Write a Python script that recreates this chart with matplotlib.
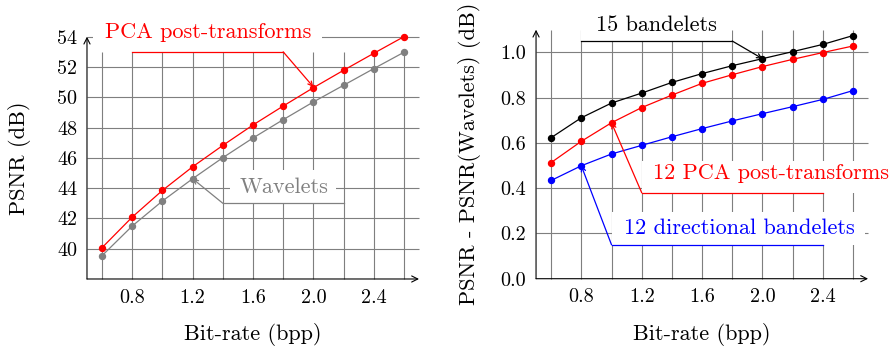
import matplotlib
matplotlib.use("Agg")
import matplotlib.pyplot as plt
from matplotlib.patches import Rectangle

plt.rcParams['font.family'] = ['cmr10', 'DejaVu Serif']
plt.rcParams['mathtext.fontset'] = 'cm'
plt.rcParams['axes.formatter.use_mathtext'] = True

# 码率 (bpp)
bitrate = [0.6, 0.8, 1.0, 1.2, 1.4, 1.6, 1.8, 2.0, 2.2, 2.4, 2.6]

# 左图: PSNR (dB)
psnr_pca = [40.07, 42.09, 43.85, 45.41, 46.82, 48.17, 49.42, 50.63, 51.78, 52.90, 54.0]
psnr_wavelets = [39.54, 41.50, 43.15, 44.62, 46.01, 47.31, 48.52, 49.69, 50.79, 51.89, 52.97]

# 右图: PSNR - PSNR(Wavelets)
gain_15_bandelets = [0.623, 0.711, 0.776, 0.820, 0.867, 0.906, 0.941, 0.972, 1.003, 1.035, 1.074]
gain_12_pca = [0.513, 0.607, 0.689, 0.756, 0.811, 0.863, 0.901, 0.937, 0.969, 0.999, 1.028]
gain_12_directional = [0.434, 0.499, 0.551, 0.589, 0.627, 0.663, 0.697, 0.729, 0.760, 0.792, 0.831]

xticks = [0.8, 1.2, 1.6, 2.0, 2.4]
left_yticks = [40, 42, 44, 46, 48, 50, 52, 54]
right_yticks = [0.0, 0.2, 0.4, 0.6, 0.8, 1.0]

FS_TICK = 14.5
FS = 16
GRID = '#7f7f7f'
GRAY = '#808080'


def setup_axes(ax, ylo, yhi, vtop, yticks, fmt):
    ax.set_xlim(0.5, 2.7)
    ax.set_ylim(ylo, yhi)
    for s in ax.spines.values():
        s.set_visible(False)
    ax.patch.set_visible(False)
    # 网格
    ax.vlines(bitrate, ylo, vtop, color=GRID, lw=0.8, zorder=1, clip_on=False)
    hl = [y for y in yticks if y > ylo]
    ax.hlines(hl, 0.5, 2.7, color=GRID, lw=0.8, zorder=1, clip_on=False)
    # 坐标轴箭头
    ap = dict(arrowstyle='->', color='black', lw=0.8, shrinkA=0, shrinkB=0,
              mutation_scale=11)
    ax.annotate('', xy=(2.7, ylo), xytext=(0.5, ylo), arrowprops=ap,
                annotation_clip=False, zorder=6)
    ax.annotate('', xy=(0.5, yhi), xytext=(0.5, ylo), arrowprops=ap,
                annotation_clip=False, zorder=6)
    ax.set_xticks(xticks)
    ax.set_xticklabels([f'{v:.1f}' for v in xticks])
    ax.set_yticks(yticks)
    ax.set_yticklabels([fmt(v) for v in yticks])
    ax.tick_params(length=0, labelsize=FS_TICK, pad=7)


def label_box(ax, x0, x1, y0, y1):
    ax.add_patch(Rectangle((x0, y0), x1 - x0, y1 - y0, facecolor='white',
                           edgecolor='none', zorder=2, clip_on=False))


def pointer(ax, start, elbow, tip, color):
    ax.plot([start[0], elbow[0]], [start[1], elbow[1]], color=color, lw=0.9,
            zorder=4, clip_on=False)
    ax.annotate('', xy=tip, xytext=elbow,
                arrowprops=dict(arrowstyle='->', color=color, lw=0.9,
                                shrinkA=0, shrinkB=0, mutation_scale=8),
                annotation_clip=False, zorder=4)


fig = plt.figure(figsize=(8.94, 3.54), dpi=100)
ax1 = fig.add_axes([0.0973, 0.2119, 0.3714, 0.6845])
ax2 = fig.add_axes([0.5996, 0.2127, 0.3714, 0.7034])

# ---- 左图 ----
setup_axes(ax1, 38, 54, 53, left_yticks, lambda v: f'{v:d}')
mk = dict(marker='o', ms=4.3, lw=0.9, zorder=3, clip_on=False)
ax1.plot(bitrate, psnr_wavelets, color=GRAY, **mk)
ax1.plot(bitrate, psnr_pca, color='red', **mk)

label_box(ax1, 0.54, 2.06, 53.0, 56.5)
ax1.text(1.30, 53.9, 'PCA post-transforms', color='red', fontsize=FS,
         ha='center', va='baseline', zorder=5)
pointer(ax1, (0.8, 53.0), (1.8, 53.0), (2.0, 50.68), 'red')

label_box(ax1, 1.445, 2.15, 43.0, 45.2)
ax1.text(1.805, 43.7, 'Wavelets', color=GRAY, fontsize=FS,
         ha='center', va='baseline', zorder=5)
pointer(ax1, (2.2, 43.0), (1.4, 43.0), (1.2, 44.62), GRAY)

ax1.text(0.5, -0.231, 'Bit-rate (bpp)', transform=ax1.transAxes,
         fontsize=FS, ha='center', va='center')
ax1.text(-0.202, 0.5, 'PSNR (dB)', transform=ax1.transAxes, rotation=90,
         fontsize=FS, ha='center', va='center')

# ---- 右图 ----
setup_axes(ax2, 0.0, 1.1, 1.1, right_yticks, lambda v: f'{v:.1f}')
ax2.plot(bitrate, gain_12_directional, color='blue', **mk)
ax2.plot(bitrate, gain_12_pca, color='red', **mk)
ax2.plot(bitrate, gain_15_bandelets, color='black', **mk)

label_box(ax2, 0.8, 1.8, 1.05, 1.3)
ax2.text(1.30, 1.095, '15 bandelets', color='black', fontsize=FS,
         ha='center', va='baseline', zorder=5)
pointer(ax2, (0.8, 1.05), (1.8, 1.05), (2.0, 0.972), 'black')

label_box(ax2, 1.2, 2.9, 0.38, 0.521)
ax2.text(2.059, 0.439, '12 PCA post-transforms', color='red', fontsize=FS,
         ha='center', va='baseline', zorder=5)
pointer(ax2, (2.4, 0.38), (1.2, 0.38), (1.0, 0.689), 'red')

label_box(ax2, 1.0, 2.68, 0.15, 0.296)
ax2.text(1.844, 0.196, '12 directional bandelets', color='blue', fontsize=FS,
         ha='center', va='baseline', zorder=5)
pointer(ax2, (2.4, 0.15), (1.0, 0.15), (0.8, 0.499), 'blue')

ax2.text(0.5, -0.226, 'Bit-rate (bpp)', transform=ax2.transAxes,
         fontsize=FS, ha='center', va='center')
ax2.text(-0.199, 0.5, 'PSNR - PSNR(Wavelets) (dB)', transform=ax2.transAxes,
         rotation=90, fontsize=FS, ha='center', va='center')

fig.savefig('out.png', dpi=100)
